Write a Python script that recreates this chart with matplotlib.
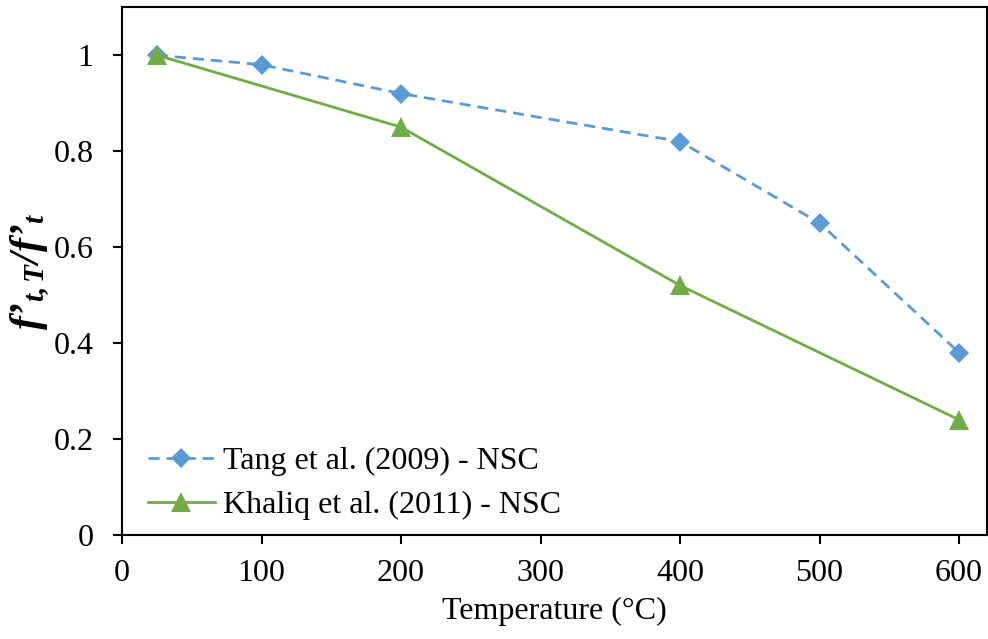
import matplotlib
matplotlib.use('Agg')
import matplotlib.pyplot as plt
from matplotlib.ticker import FuncFormatter

plt.rcParams['font.family'] = ['Liberation Serif', 'DejaVu Serif']
plt.rcParams['mathtext.fontset'] = 'custom'
plt.rcParams['mathtext.it'] = 'Liberation Serif:italic:bold'
plt.rcParams['mathtext.rm'] = 'Liberation Serif:italic:bold'
plt.rcParams['mathtext.bf'] = 'Liberation Serif:bold'

# data
tang_T = [25, 100, 200, 400, 500, 600]
tang_ratio = [1.0, 0.98, 0.92, 0.82, 0.65, 0.38]
khaliq_T = [25, 200, 400, 600]
khaliq_ratio = [1.0, 0.85, 0.52, 0.24]

blue = '#5B9BD5'
green = '#70AD47'

fig = plt.figure(figsize=(9.88, 6.39), dpi=100)
ax = fig.add_axes([0.1235, 0.1628, 0.8755, 0.826])

ax.plot(tang_T, tang_ratio, color=blue, lw=2.0, linestyle=(0, (4, 2.5)),
        marker='D', markersize=10, markeredgewidth=0, label='Tang et al. (2009) - NSC')
ax.plot(khaliq_T, khaliq_ratio, color=green, lw=2.0,
        marker='^', markersize=15, markeredgewidth=0, label='Khaliq et al. (2011) - NSC')

ax.set_xlim(0, 620)
ax.set_ylim(0, 1.1)
ax.set_xticks(range(0, 601, 100))
ax.set_yticks([0, 0.2, 0.4, 0.6, 0.8, 1.0])
ax.yaxis.set_major_formatter(FuncFormatter(lambda v, p: '%g' % round(v, 1)))

for s in ax.spines.values():
    s.set_linewidth(1.5)
    s.set_color('black')
ax.tick_params(direction='out', length=6.5, width=1.5, labelsize=23, top=False, right=False)
ax.tick_params(axis='y', pad=14)
ax.tick_params(axis='x', pad=11)

ax.set_xlabel('Temperature (°C)', fontsize=23, labelpad=6)
ax.set_ylabel(r"$f’_{t,T}/f’_{t}$", fontsize=30, labelpad=1)

ax.legend(loc='lower left', bbox_to_anchor=(-0.007, -0.032), frameon=False, fontsize=23,
          handlelength=2.1, handletextpad=0.25, labelspacing=0.45, borderaxespad=0.5,
          borderpad=0.5)

fig.savefig('out.png', dpi=100)
